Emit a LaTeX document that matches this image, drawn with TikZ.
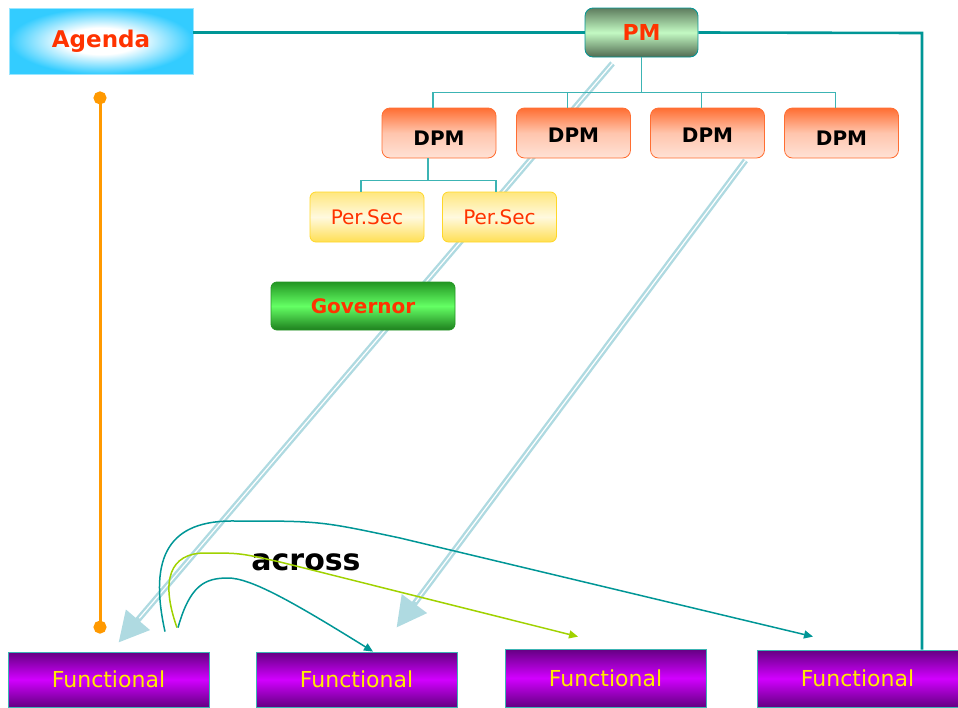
\documentclass[tikz,border=0pt]{standalone}
\usepackage{fontspec}
\setmainfont{DejaVu Sans}
\usetikzlibrary{arrows.meta,calc,backgrounds}
\definecolor{teal1}{RGB}{0,150,150}
\definecolor{teal2}{RGB}{60,180,180}
\definecolor{redtxt}{RGB}{255,51,0}
\definecolor{agcyan}{RGB}{51,204,255}
\definecolor{pmdark}{RGB}{95,125,95}
\definecolor{pmlight}{RGB}{195,250,195}
\definecolor{dpmorange}{RGB}{255,110,50}
\definecolor{psyellow}{RGB}{255,215,40}
\definecolor{govdark}{RGB}{35,150,35}
\definecolor{govlight}{RGB}{100,255,100}
\definecolor{fdark}{RGB}{100,0,130}
\definecolor{fbright}{RGB}{210,0,255}
\definecolor{ftxt}{RGB}{255,235,0}
\definecolor{orng}{RGB}{255,153,0}
\definecolor{lblue}{RGB}{175,218,225}
\definecolor{ygreen}{RGB}{160,210,0}
\pgfdeclareradialshading{agshade}{\pgfpoint{0bp}{0bp}}{color(0bp)=(white); color(10bp)=(white); color(25bp)=(agcyan); color(50bp)=(agcyan)}
\begin{document}
\begin{tikzpicture}[x=1pt,y=-1pt,
  agendabox/.style={draw=agcyan!50, line width=0.8pt, shading=agshade,
    minimum width=184pt, minimum height=66pt, inner sep=0pt, text=redtxt,
    font=\fontsize{23}{27}\selectfont\bfseries},
  pmbox/.style={draw=teal1, line width=0.8pt, rounded corners=8pt, top color=pmdark, bottom color=pmdark!85!black, middle color=pmlight,
    minimum width=113pt, minimum height=49pt, inner sep=0pt, text=redtxt,
    font=\fontsize{22}{26}\selectfont\bfseries},
  dpmbox/.style={draw=dpmorange, line width=0.8pt, rounded corners=8pt, top color=dpmorange, bottom color=white!80!dpmorange, middle color=white!60!dpmorange,
    minimum width=114pt, minimum height=50pt, inner sep=0pt, text=black, text depth=0pt,
    font=\fontsize{20}{24}\selectfont\bfseries},
  psbox/.style={draw=psyellow, line width=0.8pt, rounded corners=6pt, top color=psyellow!60, bottom color=psyellow!80, middle color=white!85!psyellow,
    minimum width=114pt, minimum height=50pt, inner sep=0pt, text=redtxt,
    font=\fontsize{20}{24}\selectfont},
  govbox/.style={draw=govdark, line width=0.8pt, rounded corners=6pt, top color=govdark, bottom color=govdark!85!black, middle color=govlight,
    minimum width=184pt, minimum height=48pt, inner sep=0pt, text=redtxt,
    font=\fontsize{20}{24}\selectfont\bfseries},
  funcbox/.style={draw=teal2, line width=0.8pt, top color=fdark, bottom color=fdark, middle color=fbright,
    minimum width=201pt, inner sep=0pt, text=ftxt,
    font=\fontsize{22}{26}\selectfont},
  mainline/.style={draw=teal1, line width=2.6pt},
  treeline/.style={draw=teal2, line width=1.4pt},
  bigarrow/.style={draw=lblue, line width=6pt, -{Triangle[length=30pt,width=30pt]}},
  stripe/.style={draw=white, line width=1.2pt, shorten >=32pt},
  tealcurve/.style={draw=teal1, line width=1.5pt, -{Triangle[length=9pt,width=8pt]}},
  greencurve/.style={draw=ygreen, line width=1.5pt, -{Triangle[length=9pt,width=8pt]}}
]
\useasboundingbox (0,0) rectangle (958,707);

% nodes
\node[agendabox] (AG) at (101,41) {Agenda};
\node[pmbox] (PM) at (641.5,32.5) {PM};
\node[dpmbox, text height=24pt] (D1) at (439,133) {DPM};
\node[dpmbox, text height=19pt] (D2) at (573.5,133) {DPM};
\node[dpmbox, text height=19pt] (D3) at (707.5,133) {DPM};
\node[dpmbox, text height=24pt] (D4) at (841.5,133) {DPM};
\node[psbox] (P1) at (367,217) {Per.Sec};
\node[psbox] (P2) at (499.5,217) {Per.Sec};
\node[govbox] (GV) at (363,306) {Governor};
\node[funcbox, minimum height=55pt] (F1) at (108.5,679.5) {Functional};
\node[funcbox, minimum height=55pt] (F2) at (356.5,679.5) {Functional};
\node[funcbox, minimum height=58pt] (F3) at (605.5,678) {Functional};
\node[funcbox, minimum height=57pt] (F4) at (857.5,678.5) {Functional};
\node[font=\fontsize{30}{34}\selectfont\bfseries, inner sep=0pt] (AC) at (306,562) {across};

% coordinates
\coordinate (b1s) at ($(PM.south)+(-29,6)$);
\coordinate (b1e) at ($(F1.north)+(10,-9)$);
\coordinate (b2s) at ($(D3.south)+(38,2)$);
\coordinate (b2e) at ($(F2.north)+(40,-24)$);
\coordinate (o1) at ($(AG.south)+(-1,17)$);
\coordinate (o2) at ($(F1.north)+(-8.5,-18)$);
\coordinate (c1s) at ($(F1.north)+(56.5,-20)$);
\coordinate (c2s) at ($(F1.north)+(68.5,-24)$);
\coordinate (c3s) at ($(F1.north)+(69.5,-24)$);
\coordinate (c1e) at ($(F4.north)+(-44.5,-13)$);
\coordinate (c2e) at ($(F3.north)+(-27.5,-12)$);
\coordinate (c3e) at ($(F2.north)+(16.5,0)$);
\coordinate (bus) at ($(PM.south)+(0,35)$);
\coordinate (sub) at ($(D1.south)+(-11,22)$);
\coordinate (corner) at (922,33);

% broad light-blue arrows behind boxes
\begin{pgfonlayer}{background}
\draw[bigarrow] (b1s) -- (b1e);
\draw[stripe] (b1s) -- (b1e);
\draw[bigarrow] (b2s) -- (b2e);
\draw[stripe] (b2s) -- (b2e);
\end{pgfonlayer}

% main lines
\draw[mainline] (PM.west) -- (PM.west -| AG.east);
\draw[mainline] (PM.east) -- (corner) -- (corner |- F4.north);

% tree lines
\draw[treeline] (PM.south) -- (bus);
\draw[treeline] ($(D1.north)+(-6,0)$) |- (bus);
\draw[treeline] ($(D2.north)+(-6,0)$) |- (bus);
\draw[treeline] ($(D3.north)+(-6,0)$) |- (bus);
\draw[treeline] ($(D4.north)+(-6,0)$) |- (bus);
\draw[treeline] ($(D1.south)+(-11,0)$) -- (sub);
\draw[treeline] ($(P1.north)+(-6,0)$) |- (sub);
\draw[treeline] ($(P2.north)+(-3.5,0)$) |- (sub);

% orange line
\draw[draw=orng, line width=3pt, {Circle[length=13pt]}-{Circle[length=13pt]}] (o1) -- (o2);

% curved arrows
\draw[tealcurve] (c1s) .. controls (148,555) and (170,520) .. (235,521)
  .. controls (320,521) .. (400,538) -- (c1e);
\draw[greencurve] (c2s) .. controls (160,580) and (170,553) .. (205,553)
  .. controls (240,553) .. (280,562) -- (c2e);
\draw[tealcurve] (c3s) .. controls (190,585) and (205,578) .. (228,578)
  .. controls (250,578) and (290,600) .. (c3e);
\end{tikzpicture}
\end{document}
